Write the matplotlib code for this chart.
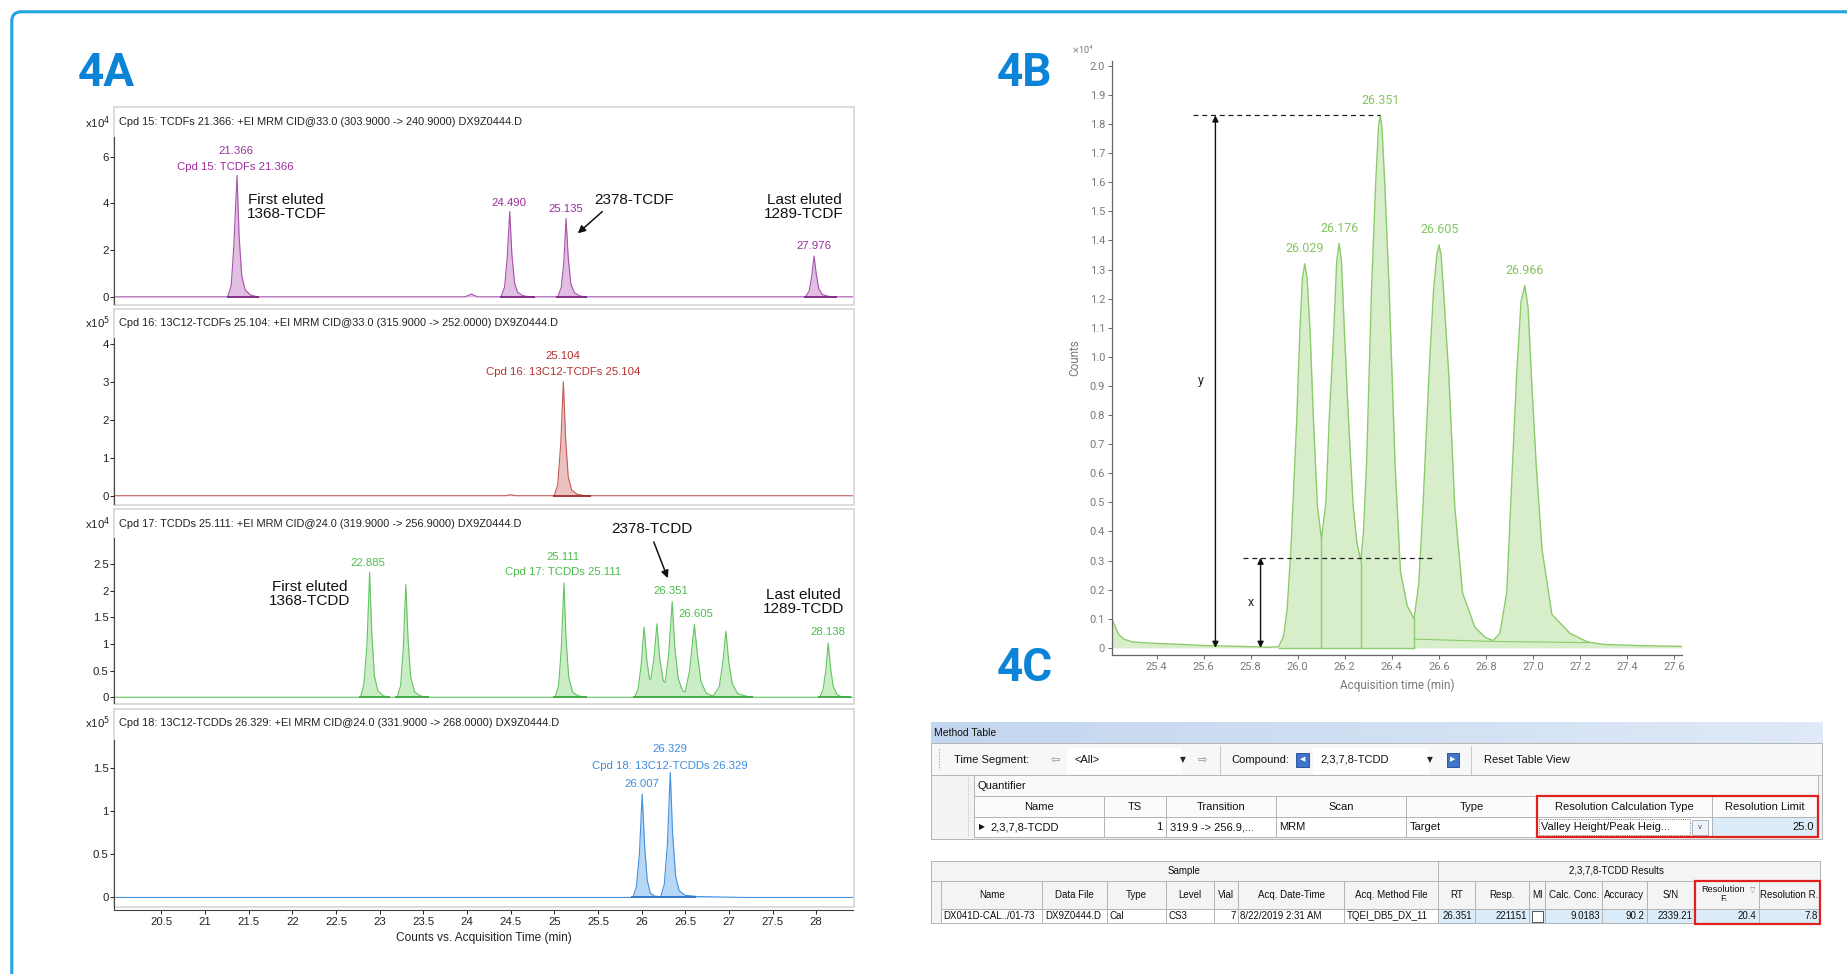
import numpy as np
import matplotlib
matplotlib.use('Agg')
from matplotlib import pyplot as plt
from matplotlib import font_manager as fm
from matplotlib.patches import Rectangle, FancyBboxPatch

names = {f.name for f in fm.fontManager.ttflist}
NARROW = 'Liberation Sans Narrow' if 'Liberation Sans Narrow' in names else 'Liberation Sans'
plt.rcParams['font.family'] = ['Roboto', 'DejaVu Sans']

# ---------------- data ----------------
# 4A: chromatogram traces (time in min, counts)
tcdf_t = [19.96, 21.26, 21.30, 21.33, 21.366, 21.39, 21.42, 21.46, 21.52, 21.60,
          23.98, 24.05, 24.12, 24.39, 24.43, 24.46, 24.49, 24.515, 24.545, 24.58,
          24.64, 24.72, 25.04, 25.08, 25.11, 25.135, 25.16, 25.19, 25.23, 25.29,
          25.36, 27.88, 27.92, 27.95, 27.976, 28.00, 28.03, 28.07, 28.13, 28.20, 28.42]
tcdf_c = [0, 0, 0.5, 2.2, 5.2, 2.6, 0.9, 0.3, 0.08, 0,
          0, 0.12, 0, 0, 0.4, 1.6, 3.65, 1.8, 0.6, 0.2,
          0.05, 0, 0, 0.4, 1.5, 3.35, 1.7, 0.55, 0.18, 0.04,
          0, 0, 0.25, 0.9, 1.75, 1.0, 0.35, 0.1, 0.03, 0, 0]

tcdf13_t = [19.96, 24.44, 24.50, 24.56, 25.00, 25.04, 25.075, 25.104, 25.13, 25.16,
            25.20, 25.26, 25.35, 28.42]
tcdf13_c = [0, 0, 0.025, 0, 0, 0.3, 1.4, 3.0, 1.5, 0.5, 0.15, 0.04, 0, 0]

tcdd_t = [19.96, 22.78, 22.82, 22.855, 22.885, 22.91, 22.94, 22.98, 23.04, 23.10,
          23.20, 23.24, 23.27, 23.30, 23.325, 23.355, 23.40, 23.46, 23.54, 25.01,
          25.05, 25.08, 25.111, 25.135, 25.165, 25.21, 25.27, 25.35, 25.92, 25.96,
          25.995, 26.029, 26.06, 26.09, 26.105, 26.14, 26.176, 26.21, 26.25, 26.27,
          26.31, 26.351, 26.38, 26.42, 26.47, 26.50, 26.55, 26.605, 26.64, 26.68,
          26.74, 26.82, 26.89, 26.93, 26.966, 27.00, 27.04, 27.10, 27.20, 27.30,
          28.04, 28.08, 28.11, 28.138, 28.165, 28.195, 28.24, 28.30, 28.42]
tcdd_c = [0, 0, 0.25, 1.0, 2.35, 1.2, 0.4, 0.12, 0.03, 0,
          0, 0.22, 0.9, 2.12, 1.1, 0.38, 0.1, 0.03, 0, 0,
          0.22, 0.9, 2.15, 1.1, 0.38, 0.1, 0.03, 0, 0, 0.15,
          0.6, 1.32, 0.7, 0.35, 0.33, 0.7, 1.38, 0.7, 0.3, 0.28,
          0.8, 1.80, 0.95, 0.35, 0.12, 0.1, 0.5, 1.37, 0.8, 0.3,
          0.08, 0.02, 0.2, 0.65, 1.24, 0.65, 0.25, 0.07, 0.02, 0,
          0, 0.15, 0.5, 1.02, 0.55, 0.2, 0.05, 0, 0]

tcdd13_t = [19.96, 25.90, 25.94, 25.975, 26.007, 26.035, 26.065, 26.10, 26.15, 26.22,
            26.26, 26.295, 26.329, 26.355, 26.39, 26.43, 26.50, 26.65, 27.20, 28.42]
tcdd13_c = [0, 0, 0.12, 0.5, 1.2, 0.6, 0.2, 0.05, 0.015, 0.01,
            0.15, 0.6, 1.45, 0.75, 0.25, 0.08, 0.025, 0.01, 0, 0]

# integration limits (start, end) of each peak
tcdf_int = [(21.25, 21.62), (24.38, 24.78), (25.02, 25.38), (27.86, 28.24)]
tcdf13_int = [(24.98, 25.42)]
tcdd_int = [(22.76, 23.12), (23.18, 23.56), (24.99, 25.37), (25.90, 26.27),
            (26.27, 26.50), (26.50, 26.82), (26.82, 27.28), (28.02, 28.40)]
tcdd13_int = [(25.88, 26.20), (26.20, 26.62)]

titles = ["Cpd 15: TCDFs 21.366: +EI MRM CID@33.0 (303.9000 -> 240.9000) DX9Z0444.D",
          "Cpd 16: 13C12-TCDFs 25.104: +EI MRM CID@33.0 (315.9000 -> 252.0000) DX9Z0444.D",
          "Cpd 17: TCDDs 25.111: +EI MRM CID@24.0 (319.9000 -> 256.9000) DX9Z0444.D",
          "Cpd 18: 13C12-TCDDs 26.329: +EI MRM CID@24.0 (331.9000 -> 268.0000) DX9Z0444.D"]
exponents = [4, 5, 4, 5]

# 4B: zoomed TCDD cluster (x10^4 counts)
b_t = [25.21, 25.225, 25.24, 25.26, 25.30, 25.40, 25.50, 25.60, 25.70, 25.80,
       25.88, 25.919, 25.94, 25.955, 25.971, 25.996, 26.009, 26.02, 26.030, 26.04,
       26.053, 26.067, 26.084, 26.101, 26.12, 26.134, 26.153, 26.166, 26.176, 26.186,
       26.199, 26.216, 26.236, 26.252, 26.268, 26.28, 26.293, 26.314, 26.332, 26.344,
       26.351, 26.358, 26.370, 26.389, 26.414, 26.437, 26.466, 26.495, 26.515, 26.533,
       26.558, 26.578, 26.592, 26.601, 26.610, 26.620, 26.643, 26.668, 26.701, 26.754,
       26.80, 26.831, 26.86, 26.889, 26.914, 26.931, 26.95, 26.966, 26.98, 26.994,
       27.014, 27.039, 27.081, 27.158, 27.234, 27.30, 27.40, 27.50, 27.635]
b_c = [0.10, 0.07, 0.045, 0.03, 0.02, 0.015, 0.012, 0.008, 0.006, 0.004,
       0.002, 0.004, 0.04, 0.13, 0.338, 0.784, 1.082, 1.27, 1.32, 1.27,
       1.082, 0.784, 0.487, 0.375, 0.50, 0.784, 1.082, 1.33, 1.39, 1.33,
       1.082, 0.784, 0.487, 0.36, 0.30, 0.40, 0.635, 1.231, 1.603, 1.79,
       1.83, 1.79, 1.603, 1.231, 0.635, 0.263, 0.144, 0.10, 0.22, 0.487,
       0.933, 1.231, 1.35, 1.385, 1.35, 1.231, 0.933, 0.487, 0.189, 0.07,
       0.035, 0.025, 0.05, 0.189, 0.635, 0.933, 1.19, 1.245, 1.17, 0.933,
       0.635, 0.34, 0.115, 0.05, 0.02, 0.012, 0.009, 0.007, 0.005]
b_peaks = [26.029, 26.176, 26.351, 26.605, 26.966]
b_heights = [1.32, 1.39, 1.83, 1.385, 1.245]
b_valleys = [26.101, 26.268, 26.495]
b_valley_h = [0.375, 0.30, 0.10]
peak_y = 1.83      # height of 2,3,7,8-TCDD
valley_x = 0.31    # valley height

# 4C: method / results tables
t1_cols = ['Name', 'TS', 'Transition', 'Scan', 'Type', 'Resolution Calculation Type', 'Resolution Limit']
t1_row = ['2,3,7,8-TCDD', '1', '319.9 -> 256.9,...', 'MRM', 'Target', 'Valley Height/Peak Heig...', '25.0']
t2_cols = ['Name', 'Data File', 'Type', 'Level', 'Vial', 'Acq. Date-Time', 'Acq. Method File',
           'RT', 'Resp.', 'MI', 'Calc. Conc.', 'Accuracy', 'S/N', 'Resolution\nF.', 'Resolution R.']
t2_row = ['DX041D-CAL../01-73', 'DX9Z0444.D', 'Cal', 'CS3', '7', '8/22/2019 2:31 AM', 'TQEI_DB5_DX_11',
          '26.351', '221151', '', '9.0183', '90.2', '2339.21', '20.4', '7.8']

# ---------------- layout ----------------
W, H = 1568.0, 827.0
fig = plt.figure(figsize=(18.47, 9.74), dpi=100)


def box(x0, y0, x1, y1):
    return [x0 / W, 1 - y1 / H, (x1 - x0) / W, (y1 - y0) / H]


ov = fig.add_axes([0, 0, 1, 1])
ov.set_xlim(0, W)
ov.set_ylim(H, 0)
ov.axis('off')

# outer frame
ov.add_patch(FancyBboxPatch((10, 10), 1700, 900, boxstyle='round,pad=0,rounding_size=8',
                            fc='none', ec='#21a5de', lw=2.2))
blue = '#0b83d6'
for lbl, x, y in [('4A', 90, 62), ('4B', 870, 62), ('4C', 870, 567)]:
    ov.text(x, y, lbl, fontsize=33, fontweight='bold', color=blue, ha='center', va='center')

# ---------------- 4A ----------------
panels = [
    (116, 258, (-0.30, 6.86), [0, 2, 4, 6], tcdf_t, tcdf_c, tcdf_int,
     '#a452aa', '#dcb4de', '#7a2380', '#9b2c9b', (91, 259, 104)),
    (287, 428, (-0.22, 4.155), [0, 1, 2, 3, 4], tcdf13_t, tcdf13_c, tcdf13_int,
     '#c25a57', '#e8b6b4', '#9b2f2c', '#b5322f', (262, 429, 274)),
    (457, 597, (-0.11, 2.99), [0, 0.5, 1, 1.5, 2, 2.5], tcdd_t, tcdd_c, tcdd_int,
     '#62c462', '#c2eabb', '#3ea83e', '#4cbc4c', (432, 598, 445)),
    (628, 773, (-0.15, 1.83), [0, 0.5, 1, 1.5], tcdd13_t, tcdd13_c, tcdd13_int,
     '#4291e0', '#acd0f4', '#2a72c8', '#3b8de0', (602, 770, 614)),
]
axes_a = []
for i, (y0, y1, ylim, yt, t, c, segs, lc, fc, dc, tc, (by0, by1, ty)) in enumerate(panels):
    ov.add_patch(Rectangle((97, by0), 628, by1 - by0, fc='none', ec='#d9d9d9', lw=1.3))
    ov.text(101, ty, titles[i], fontsize=7.9, family=NARROW, color='#222', va='center')
    ov.text(93, ty, r'x10$^{%d}$' % exponents[i], fontsize=8.2, family=NARROW, color='#222',
            va='center', ha='right')
    ax = fig.add_axes(box(97, y0, 724, y1))
    ax.patch.set_alpha(0)
    ax.fill_between(t, c, 0, color=fc, alpha=0.85, lw=0)
    ax.plot(t, c, color=lc, lw=0.8)
    for a, b in segs:
        ax.plot([a, b], [0, 0], color=dc, lw=1.3, solid_capstyle='butt')
    ax.set_xlim(19.96, 28.42)
    ax.set_ylim(*ylim)
    ax.set_yticks(yt)
    ax.set_yticklabels(['%g' % v for v in yt])
    for s in ['top', 'right']:
        ax.spines[s].set_visible(False)
    ax.spines['left'].set_color('#444')
    ax.spines['left'].set_linewidth(0.8)
    ax.tick_params(axis='y', length=3, width=0.7, labelsize=8.2, labelfontfamily=NARROW,
                   colors='#222', pad=1)
    if i < 3:
        ax.spines['bottom'].set_visible(False)
        ax.set_xticks([])
    else:
        ax.spines['bottom'].set_color('#444')
        ax.spines['bottom'].set_linewidth(0.8)
        xt = np.arange(20.5, 28.01, 0.5)
        ax.set_xticks(xt)
        ax.set_xticklabels(['%g' % v for v in xt])
        ax.tick_params(axis='x', length=3, width=0.7, labelsize=8.2, labelfontfamily=NARROW,
                       colors='#222', pad=2)
        ax.set_xlabel('Counts vs. Acquisition Time (min)', fontsize=8.6, family=NARROW,
                      color='#222', labelpad=3)
    axes_a.append((ax, tc))

lab = dict(fontsize=8.2, family=NARROW, ha='center', va='center', clip_on=False)
blk = dict(fontsize=11, family=NARROW, ha='center', va='center', color='#111', clip_on=False,
           linespacing=1.0)
arrow = dict(arrowstyle='-|>', color='#111', lw=1.1, mutation_scale=11, shrinkA=0, shrinkB=0)

ax, tc = axes_a[0]
ax.text(21.35, 6.25, '21.366', color=tc, **lab)
ax.text(21.35, 5.55, 'Cpd 15: TCDFs 21.366', color=tc, **lab)
ax.text(24.48, 4.03, '24.490', color=tc, **lab)
ax.text(25.13, 3.78, '25.135', color=tc, **lab)
ax.text(27.97, 2.17, '27.976', color=tc, **lab)
ax.text(21.93, 3.85, 'First eluted\n1368-TCDF', **blk)
ax.text(25.91, 4.13, '2378-TCDF', **blk)
ax.annotate('', xy=(25.27, 2.72), xytext=(25.55, 3.65), arrowprops=arrow)
ax.text(27.86, 3.85, 'Last eluted\n1289-TCDF', **blk)

ax, tc = axes_a[1]
ax.text(25.10, 3.69, '25.104', color=tc, **lab)
ax.text(25.10, 3.26, 'Cpd 16: 13C12-TCDFs 25.104', color=tc, **lab)

ax, tc = axes_a[2]
ax.text(22.87, 2.52, '22.885', color=tc, **lab)
ax.text(25.10, 2.63, '25.111', color=tc, **lab)
ax.text(25.10, 2.35, 'Cpd 17: TCDDs 25.111', color=tc, **lab)
ax.text(26.34, 1.99, '26.351', color=tc, **lab)
ax.text(26.62, 1.57, '26.605', color=tc, **lab)
ax.text(28.13, 1.22, '28.138', color=tc, **lab)
ax.text(22.20, 1.95, 'First eluted\n1368-TCDD', **blk)
ax.text(26.12, 3.16, '2378-TCDD', **blk)
ax.annotate('', xy=(26.30, 2.24), xytext=(26.14, 2.92), arrowprops=arrow)
ax.text(27.85, 1.80, 'Last eluted\n1289-TCDD', **blk)

ax, tc = axes_a[3]
ax.text(26.33, 1.72, '26.329', color=tc, **lab)
ax.text(26.33, 1.53, 'Cpd 18: 13C12-TCDDs 26.329', color=tc, **lab)
ax.text(26.00, 1.31, '26.007', color=tc, **lab)

# ---------------- 4B ----------------
gline, gfill, glab, gray = '#8ccb6c', '#d8eecb', '#86c45e', '#7a7a7a'
bx = fig.add_axes(box(944, 52, 1428, 556))
bx.patch.set_alpha(0)
bx.fill_between(b_t, b_c, 0, color=gfill, lw=0)
bx.plot(b_t, b_c, color=gline, lw=1.0)
for v, h in zip(b_valleys, b_valley_h):
    bx.plot([v, v], [0, h], color=gline, lw=1.0)
bx.plot([25.919, b_valleys[-1]], [0, 0], color=gline, lw=1.0)
bx.plot([b_valleys[-1], 26.831, 27.234], [0.03, 0.022, 0.018], color=gline, lw=0.8)
for p, h in zip(b_peaks, b_heights):
    bx.text(p, h + 0.03, '%.3f' % p, color=glab, fontsize=9, ha='center', va='bottom')
bx.plot([25.555, 26.351], [peak_y, peak_y], ls=(0, (4, 3)), color='#222', lw=0.9)
bx.plot([25.769, 26.575], [valley_x, valley_x], ls=(0, (4, 3)), color='#222', lw=0.9)
darrow = dict(arrowstyle='<|-|>', color='#111', lw=1.0, mutation_scale=9, shrinkA=0, shrinkB=0)
bx.annotate('', xy=(25.65, 0.0), xytext=(25.65, peak_y), arrowprops=darrow)
bx.annotate('', xy=(25.842, 0.0), xytext=(25.842, valley_x), arrowprops=darrow)
bx.text(25.586, 0.92, 'y', fontsize=9, ha='center', va='center', color='#222')
bx.text(25.80, 0.156, 'x', fontsize=9, ha='center', va='center', color='#222')
bx.set_xlim(25.21, 27.635)
bx.set_ylim(-0.024, 2.016)
xt = np.arange(25.4, 27.61, 0.2)
bx.set_xticks(xt)
bx.set_xticklabels(['%.1f' % v for v in xt])
yt = np.arange(0, 2.01, 0.1)
bx.set_yticks(yt)
bx.set_yticklabels(['0'] + ['%.1f' % v for v in yt[1:]])
for s in ['top', 'right']:
    bx.spines[s].set_visible(False)
for s in ['left', 'bottom']:
    bx.spines[s].set_color('#666')
    bx.spines[s].set_linewidth(0.9)
bx.tick_params(length=3, width=0.7, labelsize=8, colors='#666', labelcolor=gray, pad=2)
bx.set_xlabel('Acquisition time (min)', fontsize=8.5, color=gray, labelpad=5)
bx.set_ylabel('Counts', fontsize=8.5, color=gray, labelpad=6)
ov.text(909, 42, r'$\times$10$^4$', fontsize=6.5, color=gray, va='center')

# ---------------- 4C tables ----------------
bd = '#b4b4b4'
lblue = '#dcecf8'
TF = 'Liberation Sans'


def rect(x0, y0, x1, y1, fc='white', ec=bd, lw=0.7, **kw):
    ov.add_patch(Rectangle((x0, y0), x1 - x0, y1 - y0, fc=fc, ec=ec, lw=lw, **kw))


def txt(x, y, s, size=8, ha='left', family=TF, **kw):
    ov.text(x, y, s, fontsize=size, ha=ha, va='center', family=family, color='#111', **kw)


# method table
rect(790, 614, 1547, 712, fc='#f3f3f3')
ov.imshow(np.linspace(0, 1, 50).reshape(1, -1), extent=(790, 1547, 631, 614), aspect='auto',
          cmap=matplotlib.colors.LinearSegmentedColormap.from_list('hb', ['#c3d6ef', '#dfe9f7']),
          zorder=1)
txt(793, 622.5, 'Method Table', size=7.5, zorder=3)
rect(790, 631, 1547, 658, fc='#f7f7f7', zorder=2)
ov.plot([797, 797], [636, 654], color='#999', lw=0.8, ls=':', zorder=3)
txt(810, 645, 'Time Segment:', zorder=3)
ov.text(896, 645, '\u21e6', fontsize=8, color='#888', ha='center', va='center', zorder=3)
rect(906, 635, 1003, 656, fc='white', ec='white', zorder=2)
txt(912, 645, '<All>', zorder=3)
ov.text(1004, 645, '\u25bc', fontsize=5.5, color='#222', ha='center', va='center', zorder=3)
ov.text(1021, 645, '\u21e8', fontsize=8, color='#888', ha='center', va='center', zorder=3)
ov.plot([1036, 1036], [633, 657], color='#ccc', lw=0.8, zorder=3)
txt(1045, 645, 'Compound:', zorder=3)
rect(1100, 639, 1111, 651, fc='#3f74c9', ec='#2b56a0', zorder=3)
ov.text(1105.5, 645, '\u25c0', fontsize=5, color='white', ha='center', va='center', zorder=4)
rect(1115, 635, 1212, 656, fc='white', ec='white', zorder=2)
txt(1121, 645, '2,3,7,8-TCDD', zorder=3)
ov.text(1214, 645, '\u25bc', fontsize=5.5, color='#222', ha='center', va='center', zorder=3)
rect(1228, 639, 1239, 651, fc='#3f74c9', ec='#2b56a0', zorder=3)
ov.text(1233.5, 645, '\u25b6', fontsize=5, color='white', ha='center', va='center', zorder=4)
ov.plot([1249, 1249], [633, 657], color='#ccc', lw=0.8, zorder=3)
txt(1260, 645, 'Reset Table View', zorder=3)
rect(827, 658, 1543, 676, fc='#f9f9f9', zorder=2)
txt(830, 667, 'Quantifier', zorder=3)
ov.plot([822, 822], [660, 710], color='#aaa', lw=0.6, ls=':', zorder=3)
t1_edges = [827, 937, 990, 1083, 1194, 1305, 1453, 1543]
for j, name in enumerate(t1_cols):
    x0, x1 = t1_edges[j], t1_edges[j + 1]
    rect(x0, 676, x1, 694, fc='#fbfbfb', zorder=2)
    txt((x0 + x1) / 2, 685.5, name, ha='center', zorder=3)
    rect(x0, 694, x1, 710.5, fc=lblue if j == 6 else 'white', zorder=2)
    v = t1_row[j]
    if j == 0:
        ov.text(834, 702.5, '\u25b6', fontsize=5.5, color='#111', ha='center', va='center', zorder=3)
        txt(841, 702.5, v, zorder=3)
    elif j in (1, 6):
        txt(x1 - 3, 702.5, v, ha='right', zorder=3)
    else:
        txt(x0 + 3, 702.5, v, zorder=3)
rect(1306.5, 695.5, 1435, 709, fc='none', ec='#555', lw=0.6, ls=':', zorder=3)
rect(1436, 696, 1450, 709, fc='#eef3fa', ec='#9aa7bb', lw=0.6, zorder=3)
ov.text(1443, 702.5, 'v', fontsize=6, color='#555', ha='center', va='center', zorder=4)
rect(1305, 676, 1543, 711, fc='none', ec='#e0201c', lw=1.6, zorder=5)

# results table
t2_edges = [799, 885, 940, 990, 1031, 1051, 1141, 1221, 1252, 1298, 1312, 1360, 1398, 1439, 1493, 1545]
rect(790, 731, 1545, 784, fc='#f4f4f4', zorder=2)
rect(790, 731, 1221, 748, fc='#f4f4f4', zorder=2)
rect(1221, 731, 1545, 748, fc='#f4f4f4', zorder=2)
txt(1005, 739.5, 'Sample', size=7, family=NARROW, ha='center', zorder=3)
txt(1372, 739.5, '2,3,7,8-TCDD Results', size=7, family=NARROW, ha='center', zorder=3)
num_cols = {4, 7, 8, 10, 11, 12, 13, 14}
for j, name in enumerate(t2_cols):
    x0, x1 = t2_edges[j], t2_edges[j + 1]
    rect(x0, 748, x1, 771.5, fc='#f4f4f4', zorder=2)
    if j == 13:
        txt((x0 + x1) / 2 - 3, 759, name, size=6.6, family=NARROW, ha='center', zorder=3,
            linespacing=0.9)
        ov.text(x1 - 5, 756, '\u25bd', fontsize=5, color='#777', ha='center', va='center', zorder=3)
    else:
        txt((x0 + x1) / 2, 759.5, name, size=7, family=NARROW, ha='center', zorder=3)
    rect(x0, 771.5, x1, 784, fc=lblue if j >= 7 else 'white', zorder=2)
    v = t2_row[j]
    if j == 9:
        rect(x0 + 2.5, 773.5, x0 + 11.5, 782.5, fc='white', ec='#555', lw=0.7, zorder=3)
    elif j in num_cols:
        txt(x1 - 2, 778, v, size=7, family=NARROW, ha='right', zorder=3)
    else:
        txt(x0 + 2, 778, v, size=7, family=NARROW, zorder=3)
rect(1439, 748, 1545.5, 784.5, fc='none', ec='#e0201c', lw=1.6, zorder=5)

fig.savefig('out.png', dpi=100)
